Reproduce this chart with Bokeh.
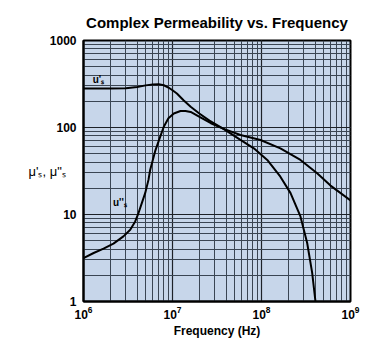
from bokeh.plotting import figure
from bokeh.models import LogTicker, LogTickFormatter
from bokeh.core.properties import value
from bokeh.embed import file_html
from bokeh.resources import INLINE

# Real part mu'_s
f_real = [1e6, 2e6, 3e6, 4e6, 5e6, 6e6, 7e6, 8e6, 9e6, 1.0e7, 1.12e7, 1.33e7, 1.6e7,
          2.0e7, 2.6e7, 3.7e7, 5.8e7, 8.2e7, 1.16e8, 1.63e8, 2.12e8,
          2.74e8, 3.26e8, 3.71e8, 4.04e8]
mu_real = [280, 280, 282, 292, 305, 313, 314, 306, 288, 268, 246, 206, 173,
           145, 120, 97, 72, 57.6, 42.4, 27.2, 17.6,
           9.5, 4.7, 2.13, 1.0]

# Imaginary part mu''_s
f_imag = [1e6, 1.3e6, 1.68e6, 2.17e6, 2.81e6, 3.35e6, 3.81e6, 4.15e6, 4.52e6, 4.93e6,
          5.37e6, 5.61e6, 6.44e6, 7.2e6, 7.98e6, 9e6, 1.035e7, 1.23e7, 1.4e7, 1.6e7,
          2.06e7, 2.7e7, 3.7e7, 5.8e7, 9.75e7, 1.63e8, 2.74e8, 4.22e8, 5.96e8, 1e9]
mu_imag = [3.16, 3.61, 4.05, 4.62, 5.6, 6.68, 8.32, 10.4, 13.5, 17.6,
           25, 32.5, 55, 76, 102, 128, 145, 155, 155, 151,
           131, 112, 97, 82, 71.8, 57.6, 42.4, 29.8, 21.5, 14.5]

FONT = "Liberation Sans"

p = figure(width=388, height=340, x_axis_type="log", y_axis_type="log",
           x_range=(1e6, 1e9), y_range=(1, 1000),
           output_backend="svg", toolbar_location=None,
           title="Complex Permeability vs. Frequency",
           min_border_left=83, min_border_right=38,
           min_border_top=40, min_border_bottom=38)

p.title.align = "center"
p.title.text_font = FONT
p.title.text_font_size = "15px"
p.title.text_font_style = "bold"
p.title.text_color = "black"
p.title.standoff = 20

p.background_fill_color = "#c7d6ea"
p.border_fill_color = "white"
p.outline_line_color = "black"
p.outline_line_width = 2

p.xaxis.ticker = LogTicker(num_minor_ticks=10)
p.yaxis.ticker = LogTicker(num_minor_ticks=10)
p.xaxis.formatter = LogTickFormatter()
p.yaxis.major_label_overrides = {1: "1", 10: "10", 100: "100", 1000: "1000"}

for ax in (p.xaxis, p.yaxis):
    ax.major_tick_out = 0
    ax.major_tick_in = 0
    ax.minor_tick_out = 0
    ax.minor_tick_in = 0
    ax.axis_line_color = "black"
    ax.axis_line_width = 2
    ax.major_label_text_font = FONT
    ax.major_label_text_font_style = "bold"
    ax.major_label_text_font_size = "12px"
    ax.major_label_text_color = "black"
    ax.axis_label_text_font = FONT
    ax.axis_label_text_font_style = "bold"
    ax.axis_label_text_font_size = "12px"
    ax.axis_label_text_color = "black"

p.xaxis.axis_label = "Frequency (Hz)"
p.xaxis.major_label_standoff = 4
p.xaxis.axis_label_standoff = 2
p.yaxis.major_label_standoff = 7
p.yaxis.axis_label = "\u03bc'\u209b, \u03bc\"\u209b"
p.yaxis.axis_label_orientation = "horizontal"
p.yaxis.axis_label_standoff = -19
p.yaxis.axis_label_text_font_size = "13px"
p.yaxis.axis_label_text_font_style = "normal"

for g in (p.xgrid, p.ygrid):
    g.grid_line_color = "#1e2228"
    g.grid_line_width = 1.2
    g.minor_grid_line_color = "#3a4553"
    g.minor_grid_line_width = 1

p.line(f_real, mu_real, line_color="black", line_width=2)
p.line(f_imag, mu_imag, line_color="black", line_width=2)

p.text(x=[1.27e6], y=[358], text=["u'\u209b"], text_font=value(FONT),
       text_font_size="10px", text_font_style="bold", text_color="black",
       text_baseline="middle")
p.text(x=[2.14e6], y=[13.6], text=["u''\u209b"], text_font=value(FONT),
       text_font_size="10px", text_font_style="bold", text_color="black",
       text_baseline="middle")

open("out.html", "w").write(file_html(p, INLINE))
